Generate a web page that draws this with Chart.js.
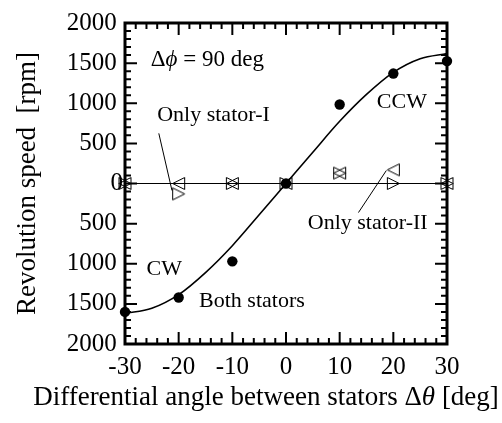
<!DOCTYPE html>
<html>
<head>
<meta charset="utf-8">
<script src="https://cdn.jsdelivr.net/npm/chart.js@4.4.1/dist/chart.umd.min.js"></script>
<style>
  html, body { margin: 0; padding: 0; background: #fff; }
  canvas { display: block; }
</style>
</head>
<body>
<canvas id="grafico" width="502" height="423"></canvas>
<script>
// Valores
const angulos = [-30, -20, -10, 0, 10, 20, 30];
const ambosEstatores = [-1600, -1420, -970, 0, 985, 1370, 1525];
const soloEstatorI = [0, -130, 0, 0, 130, 0, 0];   // triángulo hacia la derecha
const soloEstatorII = [0, 0, 0, 0, 130, 170, 0];   // triángulo hacia la izquierda
const curvaX = [-30, -25, -20, -15, -10, -5, 0, 5, 10, 15, 20, 25, 30];
const curvaY = [-1620, -1555, -1385, -1110, -775, -390, 0, 390, 775, 1110, 1385, 1555, 1620];
const lineaCeroX = [-30, 30];
const lineaCeroY = [0, 0];
const xTickLabels = ['-30', '-20', '-10', '0', '10', '20', '30'];
const yTickLabels = ['2000', '1500', '1000', '500', '0', '500', '1000', '1500', '2000']; // de abajo hacia arriba

const FUENTE = 'Liberation Serif';
Chart.defaults.font.family = FUENTE;
Chart.defaults.color = '#000';

// textos y flechas, en unidades de los ejes
const notas = [
    { partes: [['Δ', false], ['ϕ', true], [' = 90 deg', false]], x: -25.2, y: 1540, align: 'left', size: 23 },
    { partes: [['Only stator-I', false]], x: -24.0, y: 850, align: 'left', size: 22 },
    { partes: [['CCW', false]], x: 21.6, y: 1016, align: 'center', size: 22 },
    { partes: [['CW', false]], x: -22.7, y: -1062, align: 'center', size: 22 },
    { partes: [['Both stators', false]], x: -16.2, y: -1471, align: 'left', size: 22 },
    { partes: [['Only stator-II', false]], x: 26.4, y: -500, align: 'right', size: 22 }
];
const flechas = [
    [-23.7, 625, -21.25, -87],
    [13.5, -362, 18.7, 162]
];

function xy(xs, ys) {
    return xs.map((v, i) => ({ x: v, y: ys[i] }));
}

function triangulo(dir) {
    const c = document.createElement('canvas');
    c.width = 15;
    c.height = 15;
    const g = c.getContext('2d');
    g.strokeStyle = '#000';
    g.lineWidth = 1;
    g.beginPath();
    if (dir > 0) {
        g.moveTo(1.5, 1.5); g.lineTo(13.5, 7.5); g.lineTo(1.5, 13.5);
    } else {
        g.moveTo(13.5, 1.5); g.lineTo(1.5, 7.5); g.lineTo(13.5, 13.5);
    }
    g.closePath();
    g.stroke();
    return c;
}

function textoMixto(ctx, partes, x, y, align, size) {
    const fuente = it => (it ? 'italic ' : '') + size + 'px "' + FUENTE + '", serif';
    let ancho = 0;
    partes.forEach(p => { ctx.font = fuente(p[1]); ancho += ctx.measureText(p[0]).width; });
    let cx = align === 'left' ? x : align === 'right' ? x - ancho : x - ancho / 2;
    ctx.textAlign = 'left';
    ctx.textBaseline = 'middle';
    partes.forEach(p => {
        ctx.font = fuente(p[1]);
        ctx.fillText(p[0], cx, y);
        cx += ctx.measureText(p[0]).width;
    });
}

// marco con marcas hacia dentro en los cuatro lados
const marco = {
    id: 'marco',
    beforeDatasetsDraw(chart) {
        const { ctx, chartArea: a, scales: { x, y } } = chart;
        ctx.save();
        ctx.strokeStyle = '#000';
        ctx.lineWidth = 2;
        ctx.beginPath();
        for (let v = -30; v <= 30; v += 2) {
            const px = x.getPixelForValue(v);
            const len = v % 10 === 0 ? 12 : 6;
            ctx.moveTo(px, a.bottom); ctx.lineTo(px, a.bottom - len);
            ctx.moveTo(px, a.top); ctx.lineTo(px, a.top + len);
        }
        for (let v = -2000; v <= 2000; v += 100) {
            const py = y.getPixelForValue(v);
            const len = v % 500 === 0 ? 12 : 6;
            ctx.moveTo(a.left, py); ctx.lineTo(a.left + len, py);
            ctx.moveTo(a.right, py); ctx.lineTo(a.right - len, py);
        }
        ctx.stroke();
        ctx.lineWidth = 3;
        ctx.strokeRect(a.left, a.top, a.right - a.left, a.bottom - a.top);
        ctx.restore();
    }
};

const anotaciones = {
    id: 'anotaciones',
    afterDatasetsDraw(chart) {
        const { ctx, scales: { x, y } } = chart;
        ctx.save();
        ctx.fillStyle = '#000';
        ctx.strokeStyle = '#000';
        ctx.lineWidth = 1;
        flechas.forEach(f => {
            ctx.beginPath();
            ctx.moveTo(x.getPixelForValue(f[0]), y.getPixelForValue(f[1]));
            ctx.lineTo(x.getPixelForValue(f[2]), y.getPixelForValue(f[3]));
            ctx.stroke();
        });
        notas.forEach(n => {
            textoMixto(ctx, n.partes, x.getPixelForValue(n.x), y.getPixelForValue(n.y), n.align, n.size);
        });
        // título del eje x (con θ en cursiva)
        textoMixto(ctx, [['Differential angle between stators Δ', false], ['θ', true], [' [deg]', false]],
            266, 398, 'center', 27);
        ctx.restore();
    }
};

const ctx = document.getElementById('grafico').getContext('2d');
const chart = new Chart(ctx, {
    type: 'scatter',
    data: {
        datasets: [
            {
                data: xy(lineaCeroX, lineaCeroY),
                showLine: true,
                borderColor: '#000',
                borderWidth: 1,
                pointRadius: 0,
                clip: false
            },
            {
                data: xy(curvaX, curvaY),
                showLine: true,
                borderColor: '#000',
                borderWidth: 1.6,
                pointRadius: 0,
                cubicInterpolationMode: 'monotone',
                clip: false
            },
            {
                label: 'Only stator-I',
                data: xy(angulos, soloEstatorI),
                pointStyle: triangulo(1),
                pointRadius: 7,
                clip: false
            },
            {
                label: 'Only stator-II',
                data: xy(angulos, soloEstatorII),
                pointStyle: triangulo(-1),
                pointRadius: 7,
                clip: false
            },
            {
                label: 'Both stators',
                data: xy(angulos, ambosEstatores),
                pointStyle: 'circle',
                pointRadius: 5.2,
                backgroundColor: '#000',
                borderWidth: 0,
                clip: false
            }
        ]
    },
    options: {
        responsive: false,
        animation: false,
        layout: { padding: { top: 23, right: 55, left: 0, bottom: 0 } },
        plugins: { legend: { display: false }, tooltip: { enabled: false } },
        scales: {
            x: {
                type: 'linear',
                min: -30,
                max: 30,
                grid: { display: false, drawTicks: false },
                border: { display: false },
                ticks: {
                    stepSize: 10,
                    autoSkip: false,
                    maxRotation: 0,
                    padding: 8,
                    color: '#000',
                    font: { family: '"Liberation Serif", serif', size: 25, weight: 'normal' },
                    callback: (v, i) => xTickLabels[i]
                },
                afterFit: s => { s.height = 79; }
            },
            y: {
                type: 'linear',
                min: -2000,
                max: 2000,
                grid: { display: false, drawTicks: false },
                border: { display: false },
                ticks: {
                    stepSize: 500,
                    padding: 2,
                    color: '#000',
                    font: { family: '"Liberation Serif", serif', size: 25, weight: 'normal' },
                    callback: (v, i) => yTickLabels[i] + (v === 0 ? '' : '\u2005')
                },
                title: {
                    display: true,
                    text: 'Revolution speed  [rpm]',
                    color: '#000',
                    font: { family: '"Liberation Serif", serif', size: 27 },
                    padding: { top: 12, bottom: 0 }
                },
                afterFit: s => { s.width = 125; }
            }
        }
    },
    plugins: [marco, anotaciones]
});
</script>
</body>
</html>
